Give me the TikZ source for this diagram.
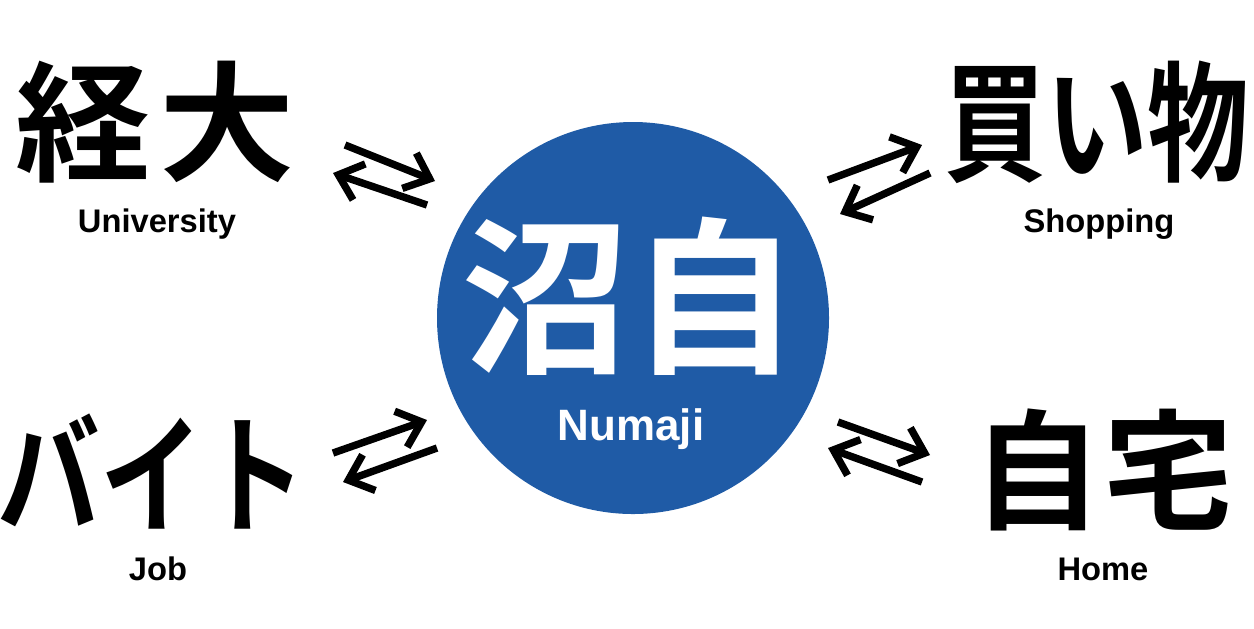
\documentclass[tikz,border=0pt]{standalone}
\usepackage{fontspec}
\usepackage{graphicx}
\usepackage{tikz}
\usetikzlibrary{arrows.meta}
\newfontfamily\jpfont{Noto Sans CJK JP}[BoldFont={Noto Sans CJK JP Bold}]
\newfontfamily\enfont{Liberation Sans}
\definecolor{numajiblue}{RGB}{31,91,166}

\begin{document}
\begin{tikzpicture}[x=1cm,y=-1cm,
    every node/.style={inner sep=0pt},
    kanji/.style={font=\jpfont\bfseries\fontsize{37pt}{37pt}\selectfont},
    bigkanji/.style={font=\jpfont\bfseries\fontsize{48pt}{48pt}\selectfont,text=white},
    label/.style={anchor=base,font=\enfont\bfseries\fontsize{9.3pt}{10pt}\selectfont},
    twoway/.style={line width=2.1pt,-{Straight Barb[length=2.2mm,width=3.8mm]}}]

    \useasboundingbox (0,0) rectangle (12.54,6.28);

    % Station in the middle
    \node[circle,fill=numajiblue,minimum size=3.92cm] (stn) at (6.33,3.18) {};
    \node[bigkanji] (stnjp) at (6.30,2.96) {沼自};
    \node[label,text=white,font=\enfont\bfseries\fontsize{12.5pt}{13pt}\selectfont]
        (stnen) at (6.31,4.40) {Numaji};

    % Places round it
    \node[kanji] (uni)  at (1.55,1.22) {\scalebox{1.04}[1]{経\hspace{0.8mm}大}};
    \node[label] (unien) at (1.57,2.32) {University};

    \node[kanji] (shop) at (10.97,1.22) {\scalebox{0.78}[1]{買い物}};
    \node[label] (shopen) at (10.99,2.32) {Shopping};

    \node[kanji] (job)  at (1.52,4.72) {\scalebox{0.79}[1]{バイト}};
    \node[label] (joben) at (1.58,5.80) {Job};

    \node[kanji] (home) at (11.03,4.70) {自宅};
    \node[label] (homeen) at (11.03,5.80) {Home};

    % Two-way arrows
    \coordinate (ula) at (3.45,1.45);  \coordinate (ulb) at (4.35,1.81);
    \coordinate (ulc) at (4.27,2.05);  \coordinate (uld) at (3.33,1.73);
    \coordinate (ura) at (8.28,1.80);  \coordinate (urb) at (9.22,1.45);
    \coordinate (urc) at (9.30,1.73);  \coordinate (urd) at (8.40,2.14);
    \coordinate (lla) at (3.33,4.53);  \coordinate (llb) at (4.27,4.20);
    \coordinate (llc) at (4.37,4.48);  \coordinate (lld) at (3.43,4.82);
    \coordinate (lra) at (8.38,4.22);  \coordinate (lrb) at (9.30,4.55);
    \coordinate (lrc) at (9.22,4.82);  \coordinate (lrd) at (8.28,4.48);

    \draw[twoway] (ula) -- (ulb);
    \draw[twoway] (ulc) -- (uld);
    \draw[twoway] (ura) -- (urb);
    \draw[twoway] (urc) -- (urd);
    \draw[twoway] (lla) -- (llb);
    \draw[twoway] (llc) -- (lld);
    \draw[twoway] (lra) -- (lrb);
    \draw[twoway] (lrc) -- (lrd);
\end{tikzpicture}
\end{document}
